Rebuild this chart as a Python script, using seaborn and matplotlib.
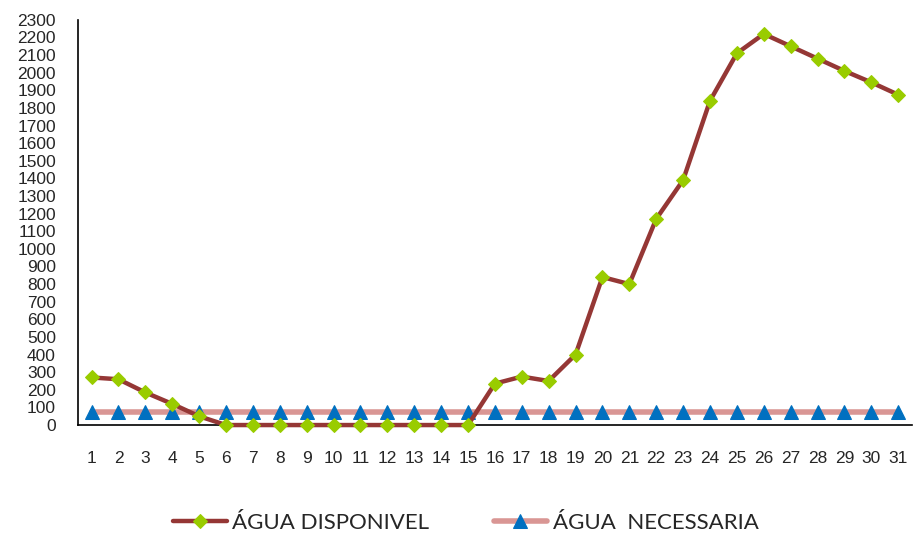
import pandas as pd
import matplotlib.pyplot as plt
import seaborn as sns

# Daily values, days 1..31
days = list(range(1, 32))
agua_disponivel = [270, 260, 185, 120, 50, 0, 0, 0, 0, 0,
                   0, 0, 0, 0, 0, 235, 275, 250, 400, 840,
                   800, 1170, 1390, 1840, 2110, 2220, 2150, 2080, 2010, 1945,
                   1875]
agua_necessaria = [72] * 31

data = pd.DataFrame({
    'dia': days,
    'disponivel': agua_disponivel,
    'necessaria': agua_necessaria,
})

sns.set_style('white')
plt.rcParams['font.family'] = ['Liberation Sans', 'DejaVu Sans']

fig = plt.figure(figsize=(9.19, 5.36), dpi=100)
ax = fig.add_axes([0.085, 0.207, 0.907, 0.756])

sns.lineplot(x='dia', y='necessaria', data=data, ax=ax, color='#D99694',
             linewidth=4, marker='^', markersize=10, markerfacecolor='#0070C0',
             markeredgecolor='#0070C0', label='ÁGUA  NECESSARIA', zorder=2,
             clip_on=False)
sns.lineplot(x='dia', y='disponivel', data=data, ax=ax, color='#953735',
             linewidth=3.2, marker='D', markersize=7, markerfacecolor='#99CC00',
             markeredgecolor='#99CC00', label='ÁGUA DISPONIVEL', zorder=3,
             clip_on=False)

ax.set_xlim(0.5, 31.5)
ax.set_ylim(0, 2300)
ax.set_xticks(days)
ax.set_yticks(range(0, 2301, 100))
ax.set_xlabel('')
ax.set_ylabel('')
ax.tick_params(axis='x', length=0, pad=19, labelsize=12.5)
ax.tick_params(axis='y', length=0, pad=16, labelsize=12.5)
sns.despine(ax=ax)
for s in ['left', 'bottom']:
    ax.spines[s].set_color('black')
    ax.spines[s].set_linewidth(1.2)
    ax.spines[s].set_zorder(1)

handles, labels = ax.get_legend_handles_labels()
ax.get_legend().remove()
fig.legend(handles[::-1], labels[::-1], loc='center', ncol=2,
           bbox_to_anchor=(0.507, 0.025), frameon=False, handlelength=2.4,
           columnspacing=2.9, handletextpad=0.25,
           prop={'family': ['Lato', 'DejaVu Sans'], 'size': 16})

fig.savefig('out.png', dpi=100)
